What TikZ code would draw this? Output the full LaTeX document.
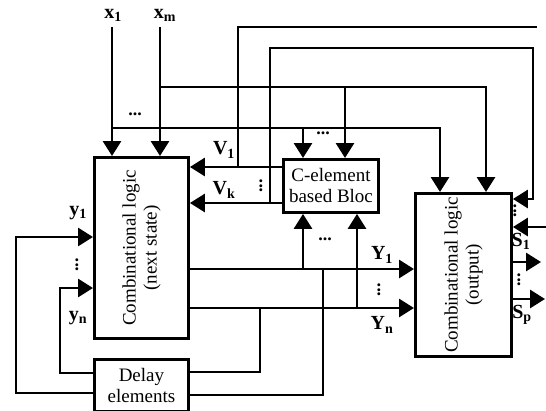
\documentclass[tikz,border=0pt]{standalone}
\usepackage{fontspec}
\setmainfont{Liberation Serif}
\usetikzlibrary{arrows.meta}
\begin{document}
\begin{tikzpicture}[x=1pt,y=-1pt,
  line width=2.9pt,
  box/.style={draw, line width=2.9pt, inner sep=0pt, anchor=north west},
  arr/.style={-{Triangle[length=15pt,width=18pt]}},
  lbl/.style={font=\fontsize{20}{20}\selectfont\bfseries, inner sep=0pt},
  txt/.style={font=\fontsize{19}{21}\selectfont, align=center, inner sep=0pt},
  hdots/.style={font=\fontsize{18}{18}\selectfont\bfseries, inner sep=0pt},
  vdots/.style={font=\fontsize{18}{18}\selectfont\bfseries, inner sep=0pt, rotate=90}]
\useasboundingbox (0,0) rectangle (546,410);
% boxes
\node[box, minimum width=94pt, minimum height=181pt] (ns) at (93,156) {};
\node[txt, rotate=90] (nst) at (ns.center) {Combinational logic\\(next state)};
\node[box, minimum width=95pt, minimum height=53pt] (ce) at (282,158) {};
\node[txt] (cet) at (ce.center) {C-element\\based Bloc};
\node[box, minimum width=96pt, minimum height=163pt] (out) at (414,192) {};
\node[txt, rotate=90] (outt) at (out.center) {Combinational logic\\(output)};
\node[box, minimum width=94pt, minimum height=52pt] (dl) at (93,358) {};
\node[txt] (dlt) at (dl.center) {Delay\\elements};
% inputs
\coordinate (x1s) at (112,27);
\coordinate (xms) at (160,27);
\node[lbl] (x1l) at (113,15) {x\textsubscript{1}};
\node[lbl] (xml) at (165,15) {x\textsubscript{m}};
\draw[arr] (x1s) -- (x1s |- ns.north);
\draw[arr] (xms) -- (xms |- ns.north);
% bus at y=87
\coordinate (h1) at (160,87);
\coordinate (h1r) at (486,87);
\coordinate (h1c) at (345,87);
\draw[arr] (h1) -- (h1r) -- (h1r |- out.north);
\draw[arr] (h1c) -- (h1c |- ce.north);
% bus at y=128
\coordinate (h2) at (112,128);
\coordinate (h2r) at (440,128);
\coordinate (h2c) at (303,128);
\draw[arr] (h2) -- (h2r) -- (h2r |- out.north);
\draw[arr] (h2c) -- (h2c |- ce.north);
\node[hdots] (d1t) at (135,114) {...};
\node[hdots] (d2t) at (323,133) {...};
% V signals
\coordinate (v1) at (238,167);
\coordinate (vk) at (270,203);
\coordinate (t1r) at (537,27);
\coordinate (t2r) at (533,48);
\coordinate (s2) at (533,199);
\draw[arr] (ce.west |- v1) -- (ns.east |- v1);
\draw (v1) |- (t1r);
\draw[arr] (ce.west |- vk) -- (ns.east |- vk);
\draw[arr] (vk) |- (t2r) -- (s2) -- (out.east |- s2);
\coordinate (rin) at (547,227);
\draw[arr] (rin) -- (out.east |- rin);
\node[lbl] (v1l) at (224,150) {V\textsubscript{1}};
\node[lbl] (vkl) at (224,190) {V\textsubscript{k}};
\node[vdots] (dv) at (261,186) {...};
\node[vdots] (dr) at (515,211) {...};
% Y signals
\coordinate (Y1) at (303,269);
\coordinate (Yn) at (357,308);
\draw[arr] (ns.east |- Y1) -- (out.west |- Y1);
\draw[arr] (ns.east |- Yn) -- (out.west |- Yn);
\draw[arr] (Y1) -- (Y1 |- ce.south);
\draw[arr] (Yn) -- (Yn |- ce.south);
\node[hdots] (dy) at (325,239) {...};
\node[vdots] (dyv) at (379,290) {...};
\node[lbl] (Y1l) at (382,255) {Y\textsubscript{1}};
\node[lbl] (Ynl) at (382,325) {Y\textsubscript{n}};
% delay connections
\coordinate (e1) at (260,308);
\coordinate (e1b) at (260,372);
\draw (e1) -- (e1b) -- (dl.east |- e1b);
\coordinate (e2) at (323,269);
\coordinate (e2b) at (323,395);
\draw (e2) -- (e2b) -- (dl.east |- e2b);
\coordinate (f1) at (60,373);
\coordinate (f1t) at (60,288);
\draw[arr] (dl.west |- f1) -- (f1) -- (f1t) -- (ns.west |- f1t);
\coordinate (f2) at (16,393);
\coordinate (f2t) at (16,237);
\draw[arr] (dl.west |- f2) -- (f2) -- (f2t) -- (ns.west |- f2t);
\node[lbl] (y1l) at (78,213) {y\textsubscript{1}};
\node[lbl] (ynl) at (78,318) {y\textsubscript{n}};
\node[vdots] (dyl) at (77,265) {...};
% outputs S
\coordinate (s1e) at (541,262);
\coordinate (spe) at (545,299);
\draw[arr] (out.east |- s1e) -- (s1e);
\draw[arr] (out.east |- spe) -- (spe);
\node[lbl] (s1l) at (521,241) {S\textsubscript{1}};
\node[lbl] (spl) at (522,315) {S\textsubscript{p}};
\node[vdots] (ds) at (519,280) {...};
\end{tikzpicture}
\end{document}
